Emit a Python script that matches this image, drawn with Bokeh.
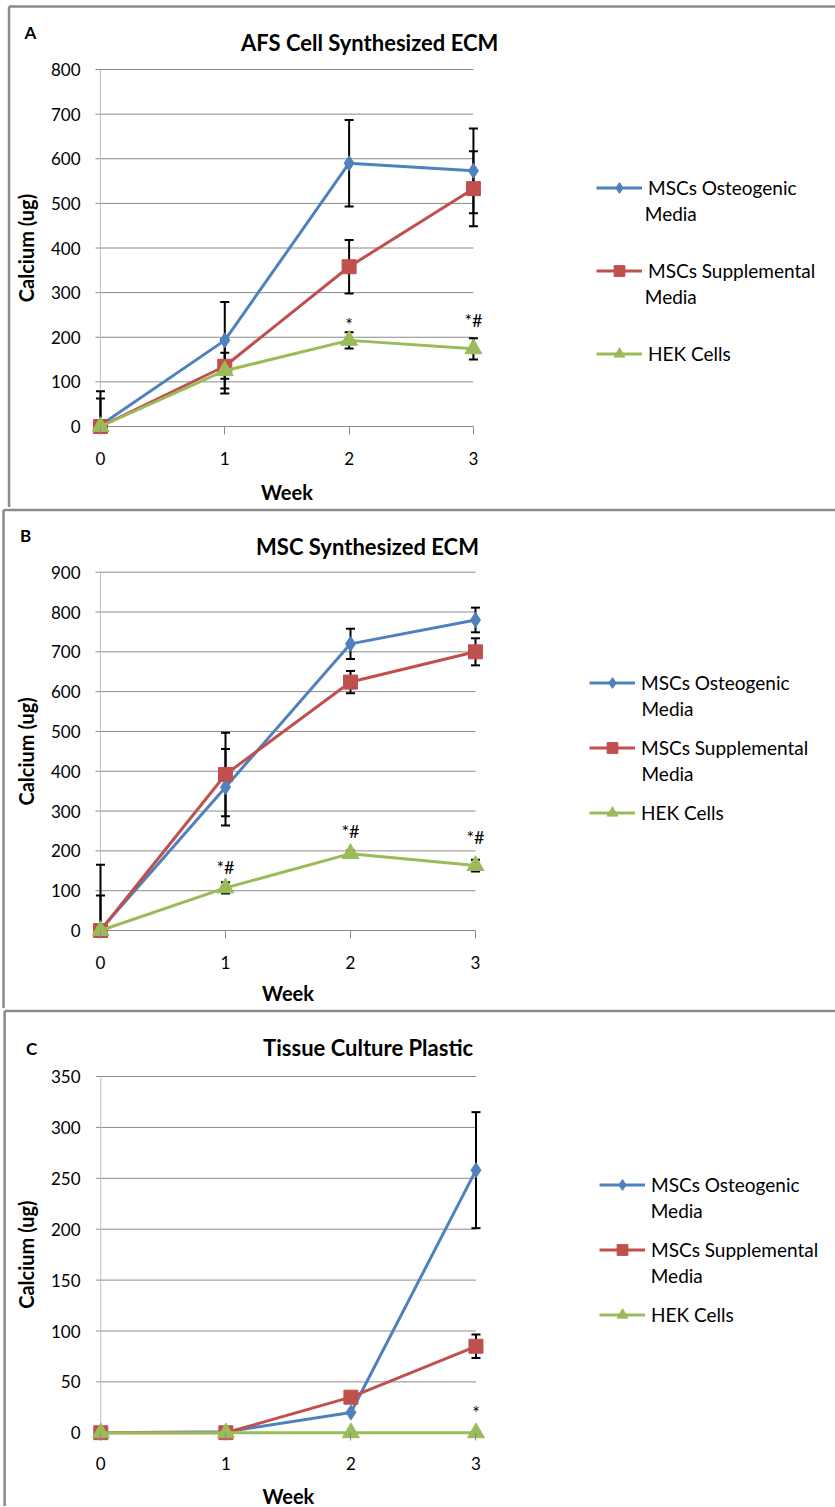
import numpy as np
from bokeh.plotting import figure
from bokeh.models import (ColumnDataSource, Whisker, TeeHead, Legend, LegendItem,
                          FixedTicker, Range1d)
from bokeh.layouts import column
from bokeh.embed import file_html
from bokeh.resources import INLINE
from bokeh.core.properties import value

# ---------------- data ----------------
weeks = [0, 1, 2, 3]
legend_line1 = ["MSCs Osteogenic", "MSCs Supplemental", "HEK Cells"]
legend_line2 = ["Media", "Media", ""]
x_title = "Week"
y_title = "Calcium (ug)"

# Panel A: AFS Cell Synthesized ECM
a_osteo = [3, 193, 590, 573]
a_osteo_err = [76, 86, 97, 95]
a_suppl = [0, 135, 358, 533]
a_suppl_err = [63, 61, 60, 84]
a_hek = [0, 125, 193, 174]
a_hek_err = [4, 40, 18, 24]
a_yticks = [0, 100, 200, 300, 400, 500, 600, 700, 800]
a_marks = ["*", "*#"]
a_marks_x = [2, 3]
a_marks_y = [229, 238]

# Panel B: MSC Synthesized ECM
b_osteo = [2, 360, 720, 780]
b_osteo_err = [163, 96, 38, 31]
b_suppl = [0, 392, 624, 700]
b_suppl_err = [88, 105, 28, 34]
b_hek = [0, 107, 193, 163]
b_hek_err = [3, 14, 8, 15]
b_yticks = [0, 100, 200, 300, 400, 500, 600, 700, 800, 900]
b_marks = ["*#", "*#", "*#"]
b_marks_x = [1, 2, 3]
b_marks_y = [159, 251, 234]

# Panel C: Tissue Culture Plastic
c_osteo = [0, 1, 20, 258]
c_osteo_err = [0, 0, 0, 57]
c_suppl = [0, 0, 35, 85]
c_suppl_err = [0, 0, 0, 11.5]
c_hek = [0, 0, 0, 0]
c_hek_err = [0, 0, 0, 0]
c_yticks = [0, 50, 100, 150, 200, 250, 300, 350]
c_marks = ["*"]
c_marks_x = [3]
c_marks_y = [20]

# ---------------- style ----------------
FONT = "Lato"
COLORS = ["#4F81BD", "#C0504D", "#9BBB59"]
MARKERS = [("diamond", 15), ("square", 14), ("triangle", 17)]
GRID = "#8a8a8a"
BORDER = "#8a8a8a"
W = 835
DX = -5  # horizontal compensation of the page placement


def make_panel(letter, title, vals, errs, yticks, marks, marks_x, marks_y, g):
    H = g["H"]
    fl, fb = g["fl"] + DX, g["fb"]
    x0p, x3p = g["x0"] + DX, g["x3"] + DX
    px_x = (x3p - x0p) / (weeks[-1] - weeks[0])
    px_y = (g["y0"] - g["yt"]) / (yticks[-1] - yticks[0])
    x_start = weeks[0] - (x0p - fl) / px_x
    x_end = x_start + (W - fl) / px_x
    y_start = yticks[0] - (fb - g["y0"]) / px_y
    y_end = y_start + fb / px_y

    def xd(px):
        return x_start + (px + DX - fl) / px_x

    def yd(py):
        return y_start + (fb - py) / px_y

    p = figure(width=W, height=H, x_range=Range1d(x_start, x_end),
               y_range=Range1d(y_start, y_end), output_backend="svg",
               toolbar_location=None, min_border_left=fl, min_border_right=0,
               min_border_top=0, min_border_bottom=H - fb)
    p.outline_line_color = None
    p.xgrid.visible = False
    p.ygrid.visible = False
    p.background_fill_color = "white"
    p.border_fill_color = "white"

    # grid lines and value-axis line
    gx0 = weeks[0] - 5 / px_x
    p.segment(x0=[gx0] * len(yticks), y0=yticks, x1=[weeks[-1]] * len(yticks),
              y1=yticks, line_color=GRID, line_width=1, level="underlay")
    p.segment(x0=[weeks[0]], y0=[y_start], x1=[weeks[0]], y1=[yticks[-1]],
              line_color="#bdbdbd", line_width=1, level="underlay")

    # axes
    xa = p.xaxis[0]
    xa.ticker = FixedTicker(ticks=weeks)
    xa.bounds = (weeks[0], weeks[-1])
    xa.axis_line_color = None
    xa.major_tick_in = 8
    xa.major_tick_out = 0
    xa.major_tick_line_color = GRID
    xa.minor_tick_line_color = None
    xa.major_label_text_font = FONT
    xa.major_label_text_font_size = "17px"
    xa.major_label_text_color = "black"
    xa.major_label_standoff = g["xs"]

    ya = p.yaxis[0]
    ya.ticker = FixedTicker(ticks=yticks)
    ya.bounds = (yticks[0], yticks[-1])
    ya.axis_line_color = None
    ya.major_tick_in = 0
    ya.major_tick_out = 0
    ya.minor_tick_line_color = None
    ya.major_label_text_font = FONT
    ya.major_label_text_font_size = "17px"
    ya.major_label_text_color = "black"
    ya.major_label_standoff = 12

    # axis titles (placed over the data span, as in the reference)
    p.text(x=[(weeks[0] + weeks[-1]) / 2], y=[yd(g["xt_y"])], text=[x_title],
           text_font=value(FONT), text_font_style="bold", text_font_size="20px",
           text_align="center", text_baseline="middle", text_color="black",
           level="overlay")
    p.text(x=[xd(g["yt_x"])], y=[(yticks[0] + yticks[-1]) / 2], text=[y_title],
           angle=np.pi / 2, text_font=value(FONT), text_font_style="bold",
           text_font_size="20px", text_align="center", text_baseline="middle",
           text_color="black", level="overlay")

    # error bars
    for v, e in zip(vals, errs):
        v = np.array(v, dtype=float)
        e = np.array(e, dtype=float)
        keep = e > 0
        if keep.any():
            src = ColumnDataSource(dict(
                x=np.array(weeks)[keep],
                upper=(v + e)[keep],
                lower=np.maximum(v - e, yticks[0])[keep]))
            p.add_layout(Whisker(source=src, base="x", upper="upper", lower="lower",
                                 dimension="height", line_color="black", line_width=2,
                                 upper_head=TeeHead(size=9, line_color="black", line_width=2),
                                 lower_head=TeeHead(size=9, line_color="black", line_width=2)))
    # series
    items = []
    for i, v in enumerate(vals):
        src = ColumnDataSource(dict(x=weeks, y=v))
        lr = p.line("x", "y", source=src, line_color=COLORS[i], line_width=3)
        mk, sz = MARKERS[i]
        sr = p.scatter("x", "y", source=src, marker=mk, size=sz,
                       fill_color=COLORS[i], line_color=COLORS[i], line_width=1)
        items.append(LegendItem(label=legend_line1[i], renderers=[lr, sr]))

    # significance marks
    p.text(x=marks_x, y=marks_y, text=marks, text_font=value(FONT),
           text_font_size="18px", text_align="center", text_baseline="middle",
           text_color="black")

    # title, panel letter, panel border
    p.text(x=[xd(g["title"][0])], y=[yd(g["title"][1])], text=[title],
           text_font=value(FONT), text_font_style="bold", text_font_size="22px",
           text_align="center", text_baseline="middle", text_color="black",
           level="overlay")
    p.text(x=[xd(g["letter"][0])], y=[yd(g["letter"][1])], text=[letter],
           text_font=value(FONT), text_font_style="bold", text_font_size="17px",
           text_align="center", text_baseline="middle", text_color="black",
           level="overlay")
    tb = g["tb"]
    p.segment(x0=[xd(8), xd(8)], y0=[yd(tb), yd(tb)], x1=[xd(W + 10), xd(8)],
              y1=[yd(tb), yd(H + 4)], line_color=BORDER, line_width=2.5,
              level="overlay")

    # legend (first lines as legend labels, second lines as text below)
    ih = 27
    pitch = g["pitch"]
    spacing = int(round(pitch - ih))
    third = g["leg_last"]
    legend = Legend(items=items,
                    location=(g["leg_x"] + DX - fl, fb - (third + ih / 2)),
                    orientation="vertical", glyph_width=46, glyph_height=ih,
                    label_standoff=6, spacing=spacing, padding=0, margin=0,
                    border_line_color=None, background_fill_alpha=0,
                    label_text_font=FONT, label_text_font_size="19px",
                    label_text_color="black", label_height=ih)
    p.add_layout(legend)
    first = third - 2 * (ih + spacing)
    l2x, l2y, l2t = [], [], []
    for i, t in enumerate(legend_line2):
        if t:
            l2x.append(xd(g["leg_x"] + 46 + 6))
            l2y.append(yd(first + i * (ih + spacing) + g["lh"]))
            l2t.append(t)
    p.text(x=l2x, y=l2y, text=l2t, text_font=value(FONT), text_font_size="19px",
           text_align="left", text_baseline="middle", text_color="black",
           level="overlay")
    return p


geomA = dict(H=507, fl=92, fb=434, x0=100, x3=475.5, yt=69, y0=426, xs=17,
             xt_y=491, yt_x=25, title=(371, 42), letter=(29.5, 32), tb=6,
             leg_x=596, leg_last=353, pitch=82.5, lh=25.5)
geomB = dict(H=501, fl=97, fb=431, x0=105, x3=480, yt=64.7, y0=423, xs=17,
             xt_y=485.5, yt_x=30, title=(372, 39), letter=(30, 28), tb=2.5,
             leg_x=594, leg_last=305, pitch=65, lh=25.5)
geomC = dict(H=498, fl=96, fb=432, x0=104.3, x3=480, yt=68, y0=424.3, xs=16,
             xt_y=487, yt_x=29, title=(372, 39), letter=(35, 39.5), tb=2.5,
             leg_x=603, leg_last=306, pitch=65.5, lh=26)

pA = make_panel("A", "AFS Cell Synthesized ECM", [a_osteo, a_suppl, a_hek],
                [a_osteo_err, a_suppl_err, a_hek_err], a_yticks, a_marks, a_marks_x, a_marks_y, geomA)
pB = make_panel("B", "MSC Synthesized ECM", [b_osteo, b_suppl, b_hek],
                [b_osteo_err, b_suppl_err, b_hek_err], b_yticks, b_marks, b_marks_x, b_marks_y, geomB)
pC = make_panel("C", "Tissue Culture Plastic", [c_osteo, c_suppl, c_hek],
                [c_osteo_err, c_suppl_err, c_hek_err], c_yticks, c_marks, c_marks_x, c_marks_y, geomC)

layout = column(pA, pB, pC, spacing=0)
open("out.html", "w").write(file_html(layout, INLINE))
